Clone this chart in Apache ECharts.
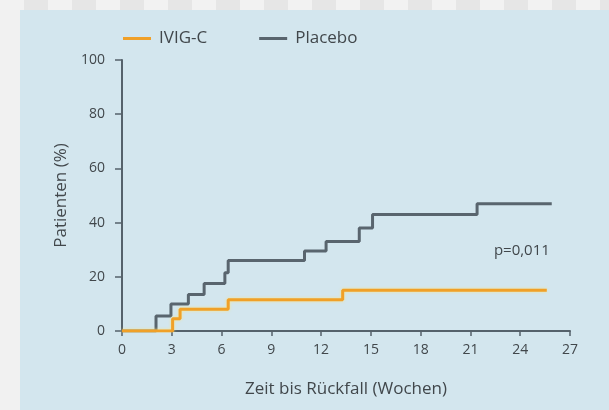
<!DOCTYPE html>
<html>
<head>
<meta charset="utf-8">
<script src="https://cdn.jsdelivr.net/npm/echarts@6/dist/echarts.min.js"></script>
<style>
html,body{margin:0;padding:0;background:#efefef;}
#c{width:609px;height:410px;}
</style>
</head>
<body>
<div id="c"></div>
<script>
// Kaplan-Meier step data: [week, % patients relapsed]
const seriesNames = ['IVIG-C', 'Placebo'];
const ivigWeeks  = [0, 3.05, 3.5, 6.4, 13.3, 25.6];
const ivigValues = [0, 4.5, 8, 11.5, 15, 15];
const placeboWeeks  = [0, 2.05, 2.95, 4.0, 4.95, 6.2, 6.4, 11.0, 12.3, 14.3, 15.1, 21.4, 25.9];
const placeboValues = [0, 5.5, 10, 13.5, 17.5, 21.5, 26, 29.5, 33, 38, 43, 47, 47];
const xTicks = [0, 3, 6, 9, 12, 15, 18, 21, 24, 27];
const yTicks = [0, 20, 40, 60, 80, 100];
const pText = 'p=0,011';
const pPos = [24.1, 29.5];

const pairs = (xs, ys) => xs.map((x, i) => [x, ys[i]]);
const axisColor = '#55626b';
const textColor = '#41474b';
const font = 'Open Sans';

const chart = echarts.init(document.getElementById('c'));
const stripes = [];
for (let i = 0; i < 26; i++) {
  stripes.push({type:'rect', shape:{x:i*24, y:0, width:24, height:10},
    style:{fill: i % 2 ? '#e6e6e6' : '#f2f2f2'}, z:-10});
}
chart.setOption({
  backgroundColor: '#efefef',
  animation: false,
  graphic: [
    ...stripes,
    {type:'rect', shape:{x:0, y:10, width:20, height:400}, style:{fill:'#f1f1f1'}, z:-10},
    {type:'rect', shape:{x:20, y:10, width:589, height:400}, style:{fill:'#d3e6ee'}, z:-9}
  ],
  legend: {
    left: 118, top: 25,
    itemWidth: 28, itemHeight: 14, itemGap: 52,
    icon: 'path://M0,5.5 L28,5.5 L28,8.5 L0,8.5 Z',
    textStyle: {color: textColor, fontFamily: font, fontSize: 17, padding: [0, 0, 0, 3]},
    data: seriesNames
  },
  grid: {left: 122, right: 39, top: 60, bottom: 79},
  xAxis: {
    type: 'value', min: 0, max: 27, interval: 3,
    name: 'Zeit bis Rückfall (Wochen)', nameLocation: 'middle', nameGap: 50,
    nameTextStyle: {color: textColor, fontFamily: font, fontSize: 17},
    axisLine: {show: true, lineStyle: {color: axisColor, width: 2}},
    axisTick: {show: true, inside: false, length: 5, lineStyle: {color: axisColor, width: 1.5}},
    axisLabel: {color: textColor, fontFamily: font, fontSize: 14, margin: 12,
      customValues: xTicks},
    splitLine: {show: false}
  },
  yAxis: {
    type: 'value', min: 0, max: 100, interval: 20,
    name: 'Patienten (%)', nameLocation: 'middle', nameGap: 50,
    nameTextStyle: {color: textColor, fontFamily: font, fontSize: 17},
    axisLine: {show: true, lineStyle: {color: axisColor, width: 2}},
    axisTick: {show: true, inside: false, length: 7, lineStyle: {color: axisColor, width: 1.5}},
    axisLabel: {color: textColor, fontFamily: font, fontSize: 14, margin: 17,
      customValues: yTicks},
    splitLine: {show: false}
  },
  series: [
    {
      name: seriesNames[1], type: 'line', step: 'end', symbol: 'none',
      color: '#59656e', lineStyle: {width: 3, color: '#59656e'},
      data: pairs(placeboWeeks, placeboValues), z: 2
    },
    {
      name: seriesNames[0], type: 'line', step: 'end', symbol: 'none',
      color: '#f0a028', lineStyle: {width: 3, color: '#f0a028',
        shadowColor: 'rgba(255,230,120,0.8)', shadowBlur: 3},
      data: pairs(ivigWeeks, ivigValues), z: 3,
      markPoint: {
        symbol: 'circle', symbolSize: 0,
        label: {show: true, formatter: pText, color: textColor, fontFamily: font, fontSize: 15},
        data: [{coord: pPos}]
      }
    }
  ]
});
</script>
</body>
</html>
